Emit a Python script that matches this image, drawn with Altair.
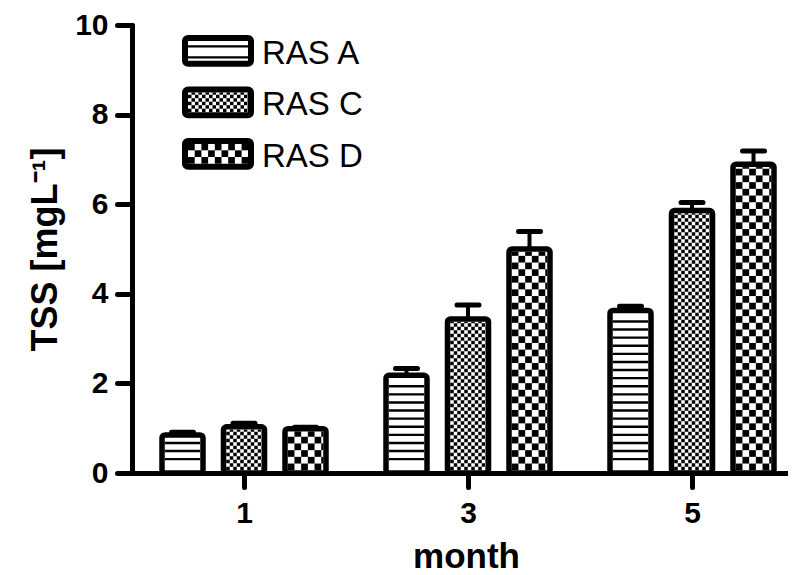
import altair as alt
import pandas as pd
import math

# ---------------- data ----------------
months = ["1", "3", "5"]
series = ["RAS A", "RAS C", "RAS D"]
ras_a = [0.85, 2.18, 3.63]
ras_c = [1.03, 3.44, 5.86]
ras_d = [0.99, 5.00, 6.89]
err_a = [0.06, 0.15, 0.09]
err_c = [0.08, 0.31, 0.18]
err_d = [0.03, 0.39, 0.30]
y_ticks = [0, 2, 4, 6, 8, 10]
x_title = "month"
y_title = "TSS [mgL\u207b\u00b9]"

values = {"RAS A": ras_a, "RAS C": ras_c, "RAS D": ras_d}
errors = {"RAS A": err_a, "RAS C": err_c, "RAS D": err_d}

# ---------------- layout / style (pixels) ----------------
W, H = 656, 448
Y_MAX = 10
GROUP_PX = 224.0
PX_Y = H / Y_MAX
X_MAX = W / GROUP_PX
BAR_W = 41.0
STEP = 61.5
STROKE = 5.5
CAP_HALF = 11.0
FONT = "Liberation Sans"

# pattern styles per series
patterns = {
    "RAS A": ("stripes", 8.1, 3.0),
    "RAS C": ("checker", 3.5, 0.0),
    "RAS D": ("checker", 6.7, 0.0),
}


def pattern_cells(kind, size, phase, left, right, bottom, top):
    """black cells (pixel coords, y measured upward) filling an inner box"""
    cells = []
    if kind == "stripes":
        thick = 2.4
        k = 1
        while True:
            c = bottom + phase + k * size
            if c + thick / 2 > top - 1.5:
                break
            cells.append((left, right, c - thick / 2, c + thick / 2))
            k += 1
    else:
        nx = int(math.ceil((right - left) / size))
        ny = int(math.ceil((top - bottom) / size))
        for i in range(nx):
            for j in range(ny):
                if (i + j) % 2 == 0:
                    x0 = left + i * size
                    x1 = min(left + (i + 1) * size, right)
                    y0 = bottom + j * size
                    y1 = min(bottom + (j + 1) * size, top)
                    if x1 - x0 > 0.3 and y1 - y0 > 0.3:
                        cells.append((x0, x1, y0, y1))
    return cells


bar_rows, cell_rows = [], []
for gi, m in enumerate(months):
    for si, s in enumerate(series):
        v = values[s][gi]
        e = errors[s][gi]
        cx = (gi + 0.5) * GROUP_PX + (si - 1) * STEP
        bar_rows.append({
            "month": m, "series": s,
            "x": (cx - BAR_W / 2) / GROUP_PX, "x2": (cx + BAR_W / 2) / GROUP_PX,
            "y": 0.0, "y2": v,
            "xc": cx / GROUP_PX, "top": v + e,
            "capl": (cx - CAP_HALF) / GROUP_PX, "capr": (cx + CAP_HALF) / GROUP_PX,
        })
        kind, size, phase = patterns[s]
        inset = STROKE / 2
        for (x0, x1, y0, y1) in pattern_cells(
                kind, size, phase,
                cx - BAR_W / 2 + inset, cx + BAR_W / 2 - inset,
                inset, v * PX_Y - inset):
            cell_rows.append({"x": x0 / GROUP_PX, "x2": x1 / GROUP_PX,
                              "y": y0 / PX_Y, "y2": y1 / PX_Y})

# legend (drawn inside the plot, top-left)
LEG_X0, LEG_X1 = 53.0, 119.0       # swatch geometry, px from plot left
LEG_TOP, LEG_H, LEG_ROW = 13.0, 25.7, 51.5
LEG_STROKE = 6.0
leg_rows = []
for r, s in enumerate(series):
    top_down = LEG_TOP + r * LEG_ROW
    y_top = H - top_down
    y_bot = y_top - LEG_H
    leg_rows.append({
        "series": s,
        "x": LEG_X0 / GROUP_PX, "x2": LEG_X1 / GROUP_PX,
        "y": y_bot / PX_Y, "y2": y_top / PX_Y,
        "tx": (LEG_X1 + 11) / GROUP_PX,
        "ty": (H - (top_down + 25.5)) / PX_Y,
    })
    kind, size, phase = patterns[s]
    if kind == "stripes":
        size, phase = 11.0, -7.7
    inset = LEG_STROKE / 2
    for (x0, x1, y0, y1) in pattern_cells(
            kind, size, phase, LEG_X0 + inset, LEG_X1 - inset,
            y_bot + inset, y_top - inset):
        cell_rows.append({"x": x0 / GROUP_PX, "x2": x1 / GROUP_PX,
                          "y": y0 / PX_Y, "y2": y1 / PX_Y})

bars = pd.DataFrame(bar_rows)
cells = pd.DataFrame(cell_rows)
legend = pd.DataFrame(leg_rows)

label_expr = "[" + ",".join("'%s'" % m for m in months) + "][floor(datum.value)]"

x_axis = alt.Axis(
    values=[i + 0.5 for i in range(len(months))], labelExpr=label_expr,
    title=x_title, grid=False,
    domainWidth=5, domainColor="black", domainCap="round",
    tickWidth=5, tickColor="black", tickCap="round", tickSize=14,
    labelFont=FONT, labelFontSize=30, labelFontWeight="bold", labelColor="black",
    labelPadding=11, labelFlush=False, labelOverlap=False,
    titleFont=FONT, titleFontSize=35, titleFontWeight="bold", titleColor="black",
    titleX=334, titleY=94, titleBaseline="alphabetic",
)
y_axis = alt.Axis(
    values=y_ticks, title=y_title, grid=False,
    domainWidth=5, domainColor="black", domainCap="round",
    tickWidth=5, tickColor="black", tickCap="round", tickSize=15,
    labelFont=FONT, labelFontSize=30, labelFontWeight="bold", labelColor="black",
    labelPadding=9, labelFlush=False, labelOverlap=False,
    titleFont=FONT, titleFontSize=36, titleFontWeight="bold", titleColor="black",
    titleX=-76, titleY=224, titleAngle=270, titleBaseline="alphabetic",
    titleAlign="center",
)
x_scale = alt.Scale(domain=[0, X_MAX], nice=False, zero=False)
y_scale = alt.Scale(domain=[0, Y_MAX], nice=False)


def X(f):
    return alt.X(f, type="quantitative", scale=x_scale, axis=x_axis)


def Y(f):
    return alt.Y(f, type="quantitative", scale=y_scale, axis=y_axis)


bar_layer = alt.Chart(bars).mark_rect(
    fill="white", stroke="black", strokeWidth=STROKE, cornerRadius=3
).encode(x=X("x"), x2="x2", y=Y("y"), y2="y2")

cell_layer = alt.Chart(cells).mark_rect(
    fill="black", strokeWidth=0
).encode(x=X("x"), x2="x2", y=Y("y"), y2="y2")

stem_layer = alt.Chart(bars).mark_rule(
    color="black", strokeWidth=4
).encode(x=X("xc"), y=Y("y2"), y2="top")

cap_layer = alt.Chart(bars).mark_rule(
    color="black", strokeWidth=5, strokeCap="round"
).encode(x=X("capl"), x2="capr", y=Y("top"))

leg_box = alt.Chart(legend).mark_rect(
    fill="white", stroke="black", strokeWidth=LEG_STROKE, cornerRadius=3
).encode(x=X("x"), x2="x2", y=Y("y"), y2="y2")

leg_text = alt.Chart(legend).mark_text(
    align="left", baseline="alphabetic", font=FONT, fontSize=33, color="black"
).encode(x=X("tx"), y=Y("ty"), text="series:N")

chart = alt.layer(
    bar_layer, leg_box, cell_layer, stem_layer, cap_layer, leg_text
).properties(
    width=W, height=H,
    autosize=alt.AutoSizeParams(type="none"),
    padding={"left": 124, "top": 17, "right": 0, "bottom": 102},
    background="white",
).configure_view(strokeWidth=0)

chart.save("out.html", embed_options={"renderer": "svg", "actions": False})
